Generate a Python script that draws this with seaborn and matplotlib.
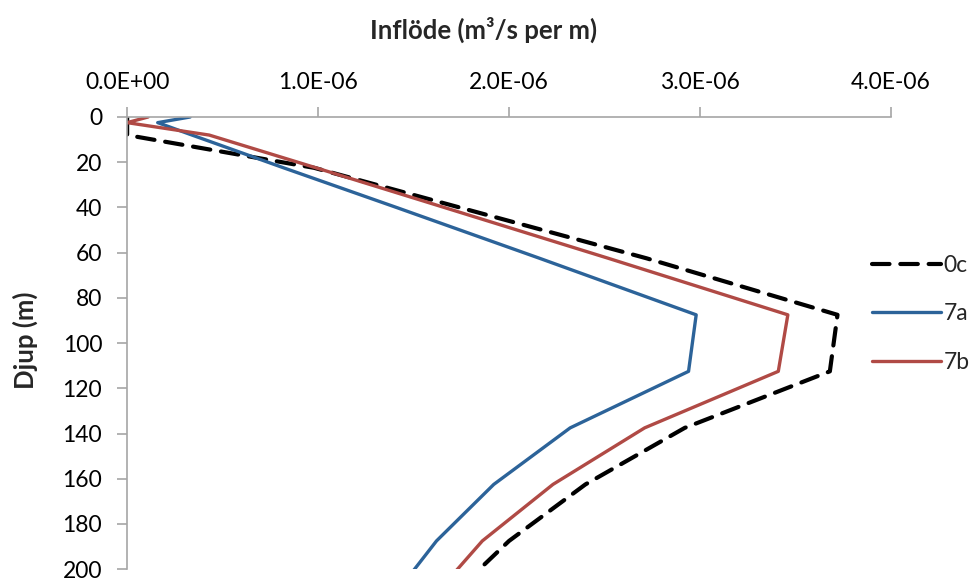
import matplotlib
matplotlib.use("Agg")
import matplotlib.pyplot as plt
from matplotlib.ticker import FuncFormatter
import numpy as np
import pandas as pd
import seaborn as sns

# Depth of each calculation node (m)
depth = [0, 2.5, 8, 22.5, 40, 62.5, 87.5, 112.5, 137.5, 162.5, 187.5, 212.5]

# Inflow per metre of tunnel (1e-6 m3/s per m) for each case
flow_0c = [0.00, 0.00, 0.00, 0.98, 1.74, 2.72, 3.72, 3.68, 2.92, 2.40, 2.00, 1.69]
flow_7a = [0.33, 0.16, 0.34, 0.82, 1.41, 2.16, 2.98, 2.94, 2.32, 1.92, 1.62, 1.39]
flow_7b = [0.11, 0.00, 0.43, 0.99, 1.66, 2.52, 3.46, 3.41, 2.71, 2.23, 1.86, 1.60]

cases = ["0c", "7a", "7b"]
x_ticks = [0.0, 1e-6, 2e-6, 3e-6, 4e-6]
y_ticks = list(range(0, 201, 20))

frames = []
for name, vals in zip(cases, [flow_0c, flow_7a, flow_7b]):
    frames.append(pd.DataFrame({"depth": depth,
                                "flow": np.array(vals) * 1e-6,
                                "case": name}))
df = pd.concat(frames, ignore_index=True)

sns.set_theme(style="white")
plt.rcParams["font.family"] = ["Lato", "DejaVu Sans"]

fig = plt.figure(figsize=(9.78, 5.82), dpi=100)
ax = fig.add_axes([0.130, 0.022, 0.781, 0.777])

styles = {
    "0c": dict(color="#000000", linewidth=3.0, dashes=(4.2, 2.6),
               dash_capstyle="round"),
    "7a": dict(color="#2C6399", linewidth=2.4),
    "7b": dict(color="#B04A45", linewidth=2.4),
}

for name in cases:
    sns.lineplot(data=df[df["case"] == name], x="flow", y="depth",
                 orient="y", sort=False, estimator=None, ax=ax,
                 label=name, **styles[name])

ax.set_xlim(0, 4e-6)
ax.set_ylim(200, 0)
ax.set_xticks(x_ticks)
ax.set_yticks(y_ticks)
ax.xaxis.set_major_formatter(FuncFormatter(lambda v, p: f"{v:.1E}"))
ax.xaxis.tick_top()
ax.xaxis.set_label_position("top")

for side in ["right", "bottom"]:
    ax.spines[side].set_visible(False)
for side in ["top", "left"]:
    ax.spines[side].set_color("#A6A6A6")
    ax.spines[side].set_linewidth(1.2)

ax.tick_params(axis="both", which="major", direction="out", length=7,
               width=1.2, color="#A6A6A6", labelsize=16.5, labelcolor="#000000")
ax.tick_params(axis="x", top=True, bottom=False, pad=10)
ax.tick_params(axis="y", left=True, pad=11)

ax.set_xlabel("")
ax.set_ylabel("")
fig.text(484 / 978, 1 - 30 / 582, "Inflöde (m³/s per m)", ha="center",
         va="center", fontsize=18.5, fontweight="bold")
fig.text(25 / 978, 1 - 340 / 582, "Djup (m)", ha="center", va="center",
         rotation=90, fontsize=18.5, fontweight="bold")

leg = ax.legend(loc="center left", bbox_to_anchor=(872 / 978, 1 - 314 / 582),
                bbox_transform=fig.transFigure, frameon=False, fontsize=16.5,
                handlelength=3.0, handletextpad=0.12, labelspacing=1.2,
                borderaxespad=0, borderpad=0)

fig.savefig("out.png", dpi=100)
